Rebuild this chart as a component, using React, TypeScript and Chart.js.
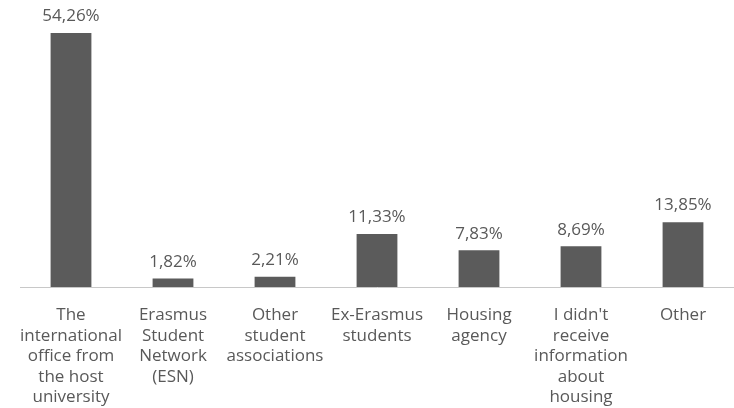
import React, { useEffect, useRef } from "react";
import { Chart, registerables } from "chart.js";

Chart.register(...registerables);

const categories: string[][] = [
  ["The", "international", "office from", "the host", "university"],
  ["Erasmus", "Student", "Network", "(ESN)"],
  ["Other", "student", "associations"],
  ["Ex-Erasmus", "students"],
  ["Housing", "agency"],
  ["I didn't", "receive", "information", "about", "housing"],
  ["Other"],
];
const values: number[] = [54.26, 1.82, 2.21, 11.33, 7.83, 8.69, 13.85];
const valueLabels: string[] = ["54,26%", "1,82%", "2,21%", "11,33%", "7,83%", "8,69%", "13,85%"];

const FONT = "'Open Sans', sans-serif";
const TEXT = "#595959";

const labelPlugin = {
  id: "valueLabels",
  afterDatasetsDraw(chart: any) {
    const ctx = chart.ctx;
    const meta = chart.getDatasetMeta(0);
    ctx.save();
    ctx.font = `17px ${FONT}`;
    ctx.fillStyle = TEXT;
    ctx.textAlign = "center";
    ctx.textBaseline = "bottom";
    meta.data.forEach((el: any, i: number) => {
      ctx.fillText(valueLabels[i], el.x, el.y - 8);
    });
    ctx.restore();
  },
};

export default function App() {
  const ref = useRef<HTMLCanvasElement>(null);
  useEffect(() => {
    if (!ref.current) return;
    const chart = new Chart(ref.current, {
      type: "bar",
      data: {
        labels: categories as any,
        datasets: [
          {
            data: values,
            backgroundColor: "#5b5b5b",
            barPercentage: 0.4,
            categoryPercentage: 1,
          },
        ],
      },
      options: {
        responsive: false,
        animation: false,
        layout: { padding: { left: 20, right: 0, top: 6, bottom: 0 } },
        plugins: { legend: { display: false }, tooltip: { enabled: false } },
        scales: {
          x: {
            grid: { display: false, drawTicks: false },
            border: { display: true, color: "#c8c8c8", width: 1 },
            ticks: {
              color: TEXT,
              font: { family: FONT, size: 17, lineHeight: "20.5px" as any },
              padding: 18,
              maxRotation: 0,
              autoSkip: false,
            },
            afterFit: (scale: any) => {
              scale.height = 121;
            },
          },
          y: { display: false, min: 0, max: 60 },
        },
      },
      plugins: [labelPlugin],
    });
    return () => chart.destroy();
  }, []);
  return (
    <div style={{ position: "fixed", left: 0, top: 0, width: 734, height: 408, background: "#fff" }}>
      <canvas ref={ref} width={734} height={408} />
    </div>
  );
}
